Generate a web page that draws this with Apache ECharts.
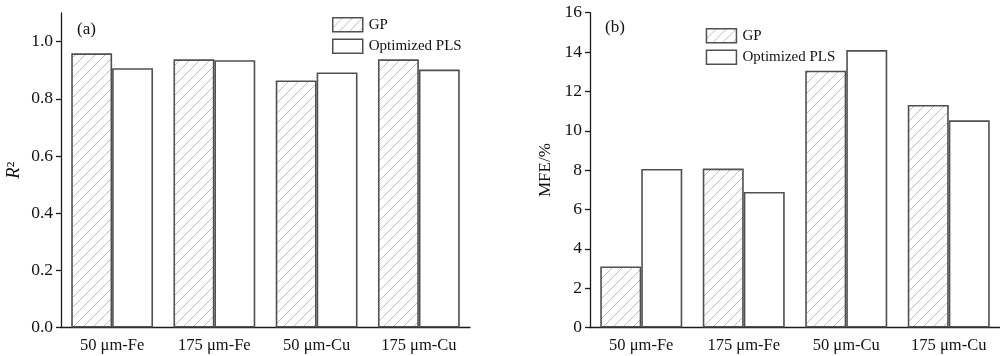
<!DOCTYPE html>
<html>
<head>
<meta charset="utf-8">
<script src="https://cdn.jsdelivr.net/npm/echarts@6/dist/echarts.min.js"></script>
<style>
html,body{margin:0;padding:0;background:#fff;}
#chart{width:1000px;height:356px;}
</style>
</head>
<body>
<div id="chart"></div>
<script>
// ---- data ----
var categories = ['50 \u03bcm-Fe', '175 \u03bcm-Fe', '50 \u03bcm-Cu', '175 \u03bcm-Cu'];
var seriesNames = ['GP', 'Optimized PLS'];
var r2GP = [0.959, 0.938, 0.864, 0.938];
var r2PLS = [0.907, 0.935, 0.892, 0.902];
var mfeGP = [3.10, 8.08, 13.05, 11.31];
var mfePLS = [8.06, 6.89, 14.10, 10.53];
var r2Ticks = [0, 0.2, 0.4, 0.6, 0.8, 1.0];
var mfeTicks = [0, 2, 4, 6, 8, 10, 12, 14, 16];

// ---- hatch pattern ----
function makeHatch() {
  var c = document.createElement('canvas');
  var s = 10;
  c.width = s; c.height = s;
  var g = c.getContext('2d');
  g.fillStyle = '#ffffff';
  g.fillRect(0, 0, s, s);
  g.strokeStyle = '#b4b4b4';
  g.lineWidth = 0.9;
  g.beginPath();
  g.moveTo(-1, s + 1); g.lineTo(s + 1, -1);
  g.moveTo(-1, 1); g.lineTo(1, -1);
  g.moveTo(s - 1, s + 1); g.lineTo(s + 1, s - 1);
  g.stroke();
  return c;
}
var hatch = { image: makeHatch(), repeat: 'repeat' };

var FONT = 'Liberation Serif';
var AX = '#1a1a1a';
var BORDER = '#505050';

function xAxis(gi) {
  return {
    type: 'category', gridIndex: gi, data: categories, boundaryGap: true,
    axisLine: { lineStyle: { color: AX, width: 1.3 } },
    axisTick: { alignWithLabel: true, length: 5, lineStyle: { color: AX, width: 1.3 } },
    axisLabel: { fontFamily: FONT, fontSize: 16.5, color: '#111', margin: 10 },
    splitLine: { show: false }
  };
}
function yAxis(gi, max, interval, ticks, dec, name, rich, gap) {
  return {
    type: 'value', gridIndex: gi, min: 0, max: max, interval: interval,
    name: name, nameLocation: 'middle', nameGap: gap, nameRotate: 90,
    nameTextStyle: { fontFamily: FONT, fontSize: 17, color: '#111', rich: rich },
    axisLine: { show: true, lineStyle: { color: AX, width: 1.3 } },
    axisTick: { show: true, length: 5, customValues: ticks, lineStyle: { color: AX, width: 1.3 } },
    axisLabel: { fontFamily: FONT, fontSize: 17.5, color: '#111', margin: 8, customValues: ticks,
      formatter: function (v) { return v.toFixed(dec); } },
    splitLine: { show: false }
  };
}
function barSeries(name, xi, data, hatched) {
  return {
    name: name, type: 'bar', xAxisIndex: xi, yAxisIndex: xi, data: data,
    barGap: '0%', barCategoryGap: '20%',
    itemStyle: { color: hatched ? hatch : '#ffffff', borderColor: BORDER, borderWidth: 1.6 },
    emphasis: { disabled: true }, animation: false
  };
}

var chart = echarts.init(document.getElementById('chart'), null, { renderer: 'canvas' });
chart.setOption({
  backgroundColor: '#ffffff',
  animation: false,
  grid: [
    { left: 61, top: 13, width: 409, height: 314.5 },
    { left: 590, top: 12.7, width: 410, height: 314.8 }
  ],
  xAxis: [xAxis(0), xAxis(1)],
  yAxis: [
    yAxis(0, 1.1, 0.2, r2Ticks, 1, '{i|R}{n|\u00b2}',
      { i: { fontFamily: FONT, fontSize: 18.5, fontStyle: 'italic', color: '#111' },
        n: { fontFamily: FONT, fontSize: 18.5, color: '#111' } }, 37),
    yAxis(1, 16, 2, mfeTicks, 0, 'MFE/%', {}, 36)
  ],
  legend: [
    { data: seriesNames.map(function (n) { return { name: n }; }), orient: 'vertical', left: 332, top: 17,
      itemWidth: 30, itemHeight: 14, itemGap: 6, icon: 'rect',
      itemStyle: { borderColor: BORDER, borderWidth: 1.5 },
      textStyle: { fontFamily: FONT, fontSize: 15, color: '#111', padding: [0, 0, 0, 1] },
      padding: 0, selectedMode: false },
    { data: seriesNames.map(function (n) { return { name: n }; }), orient: 'vertical', left: 705.7, top: 28,
      itemWidth: 30, itemHeight: 14, itemGap: 6, icon: 'rect',
      itemStyle: { borderColor: BORDER, borderWidth: 1.5 },
      textStyle: { fontFamily: FONT, fontSize: 15, color: '#111', padding: [0, 0, 0, 1] },
      padding: 0, selectedMode: false }
  ],
  graphic: [
    { type: 'text', left: 77, top: 21, style: { text: '(a)', font: '17px "Liberation Serif"', fill: '#111' } },
    { type: 'text', left: 605, top: 19, style: { text: '(b)', font: '17px "Liberation Serif"', fill: '#111' } }
  ],
  series: [
    barSeries(seriesNames[0], 0, r2GP, true),
    barSeries(seriesNames[1], 0, r2PLS, false),
    barSeries(seriesNames[0], 1, mfeGP, true),
    barSeries(seriesNames[1], 1, mfePLS, false)
  ]
});
</script>
</body>
</html>
